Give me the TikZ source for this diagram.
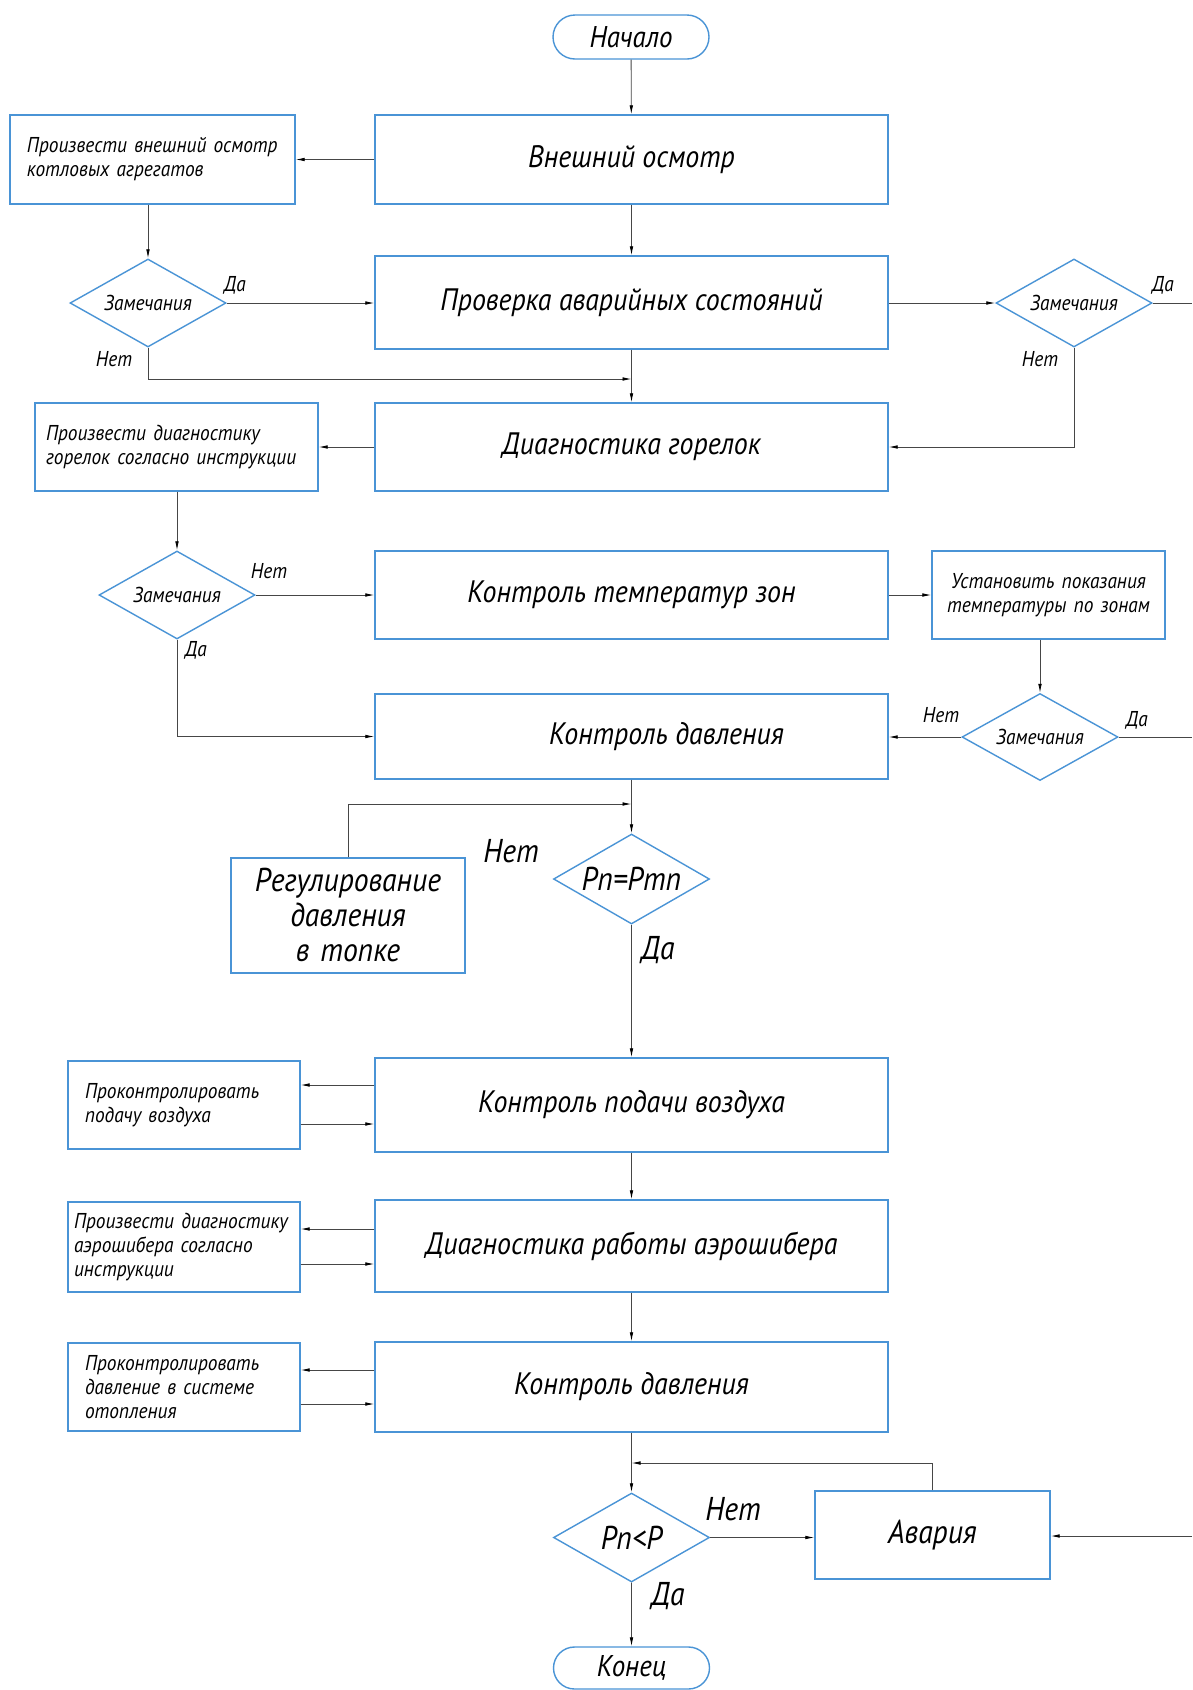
\documentclass[tikz,border=0pt]{standalone}
\usepackage{fontspec}
\setmainfont{PT Sans}[FakeStretch=0.9]
\usetikzlibrary{shapes.geometric,shapes.misc,arrows.meta}
\definecolor{bblue}{RGB}{74,148,214}
\definecolor{lgray}{RGB}{70,70,70}
\newcommand\fmain{\fontsize{31}{36}\selectfont\itshape}
\newcommand\fsmall{\fontsize{21.5}{24}\selectfont\itshape}
\newcommand\fbig{\fontsize{33}{35}\selectfont\itshape}
\newcommand\fterm{\fontsize{30}{32}\selectfont\itshape}
\tikzset{
  mainbox/.style={draw=bblue,line width=1.4pt,minimum width=513pt,inner sep=0pt,font=\fmain},
  sidebox/.style={draw=bblue,line width=1.4pt,align=left,inner ysep=0pt,font=\fsmall},
  decision/.style={draw=bblue,line width=1.4pt,diamond,aspect=1.77,minimum width=156pt,minimum height=88pt,inner sep=0pt,font=\fsmall},
  terminal/.style={draw=bblue,line width=1.4pt,rounded rectangle,minimum width=156pt,minimum height=44pt,inner sep=0pt,font=\fterm},
  conn/.style={draw=lgray,line width=0.8pt,-{Latex[length=9pt,width=3.6pt,color=black]}},
  plain/.style={draw=lgray,line width=0.8pt},
  lab/.style={font=\fsmall,inner sep=0pt},
  biglab/.style={font=\fbig,inner sep=0pt}
}
\begin{document}
\begin{tikzpicture}[x=1pt,y=-1pt]
\useasboundingbox[fill=white] (0,0) rectangle (1192,1690);
% nodes
\node[terminal] (start) at (631,37) {Начало};
\node[mainbox,minimum height=89pt] (b1) at (631.5,159.5) {Внешний осмотр};
\node[sidebox,text width=251pt,inner xsep=17pt,minimum height=89pt] (a1) at (152.5,159.5) {Произвести внешний осмотр\\котловых агрегатов};
\node[decision] (d1) at (148,303) {Замечания};
\node[mainbox,minimum height=93pt] (b2) at (631.5,302.5) {Проверка аварийных состояний};
\node[decision] (d3) at (1074,303) {Замечания};
\node[mainbox,minimum height=88pt] (b3) at (631.5,447) {Диагностика горелок};
\node[sidebox,text width=261pt,inner xsep=11pt,minimum height=88pt] (a2) at (176.5,447) {Произвести диагностику\\горелок согласно инструкции};
\node[decision] (d2) at (177,595) {Замечания};
\node[mainbox,minimum height=88pt] (b4) at (631.5,595) {Контроль температур зон};
\node[sidebox,align=center,text width=217pt,inner xsep=8pt,minimum height=88pt] (r1) at (1048.5,595) {Установить показания\\температуры по зонам};
\node[decision,minimum height=87pt] (d4) at (1040,737) {Замечания};
\node[mainbox,minimum height=85pt] (b5) at (631.5,736.5) {\hspace*{70pt}Контроль давления};
\node[decision,minimum height=90pt,font=\fbig] (d5) at (631.5,879) {Рп=Ртп};
\node[sidebox,align=center,font=\fbig,text width=218pt,inner xsep=8pt,minimum height=115pt] (reg) at (348,915.5) {Регулирование\\давления\\в топке};
\node[mainbox,minimum height=94pt] (b6) at (631.5,1105) {Контроль подачи воздуха};
\node[sidebox,text width=198pt,inner xsep=17pt,minimum height=88pt] (a3) at (184,1105) {Проконтролировать\\подачу воздуха};
\node[mainbox,minimum height=92pt] (b7) at (631.5,1246) {Диагностика работы аэрошибера};
\node[sidebox,text width=220pt,inner xsep=6pt,minimum height=90pt] (a4) at (184,1247) {Произвести диагностику\\аэрошибера согласно\\инструкции};
\node[mainbox,minimum height=90pt] (b8) at (631.5,1387) {Контроль давления};
\node[sidebox,text width=198pt,inner xsep=17pt,minimum height=88pt] (a5) at (184,1387) {Проконтролировать\\давление в системе\\отопления};
\node[decision,minimum height=89pt,font=\fbig] (d6) at (631.5,1537.5) {Рп<Р};
\node[draw=bblue,line width=1.4pt,minimum width=235pt,minimum height=88pt,inner sep=0pt,font=\fbig] (av) at (932.5,1535) {Авария};
\node[terminal,minimum height=42pt] (end) at (631.5,1668) {Конец};
% helper coordinates
\coordinate (e1) at (1192,303);
\coordinate (e2) at (1192,737);
\coordinate (e3) at (1192,1536);
\coordinate (j1) at (631.5,379);
\coordinate (j2) at (631.5,804);
\coordinate (j3) at (631.5,1463);
% connectors
\draw[conn] (start) -- (b1);
\draw[conn] (b1.west) -- (a1.east);
\draw[conn] (b1) -- (b2);
\draw[conn] (a1.south -| d1.north) -- (d1.north);
\draw[conn] (d1.east) -- (d1.east -| b2.west);
\draw[conn] (d1.south) |- (j1);
\draw[conn] (b2) -- (b3);
\draw[conn] (b2.east |- d3.west) -- (d3.west);
\draw[plain] (d3.east) -- (e1);
\draw[conn] (d3.south) |- (b3.east);
\draw[conn] (b3.west) -- (a2.east);
\draw[conn] (a2.south -| d2.north) -- (d2.north);
\draw[conn] (d2.east) -- (d2.east -| b4.west);
\draw[conn] (d2.south) |- (b5.west);
\draw[conn] (b4.east) -- (r1.west);
\draw[conn] (r1.south -| d4.north) -- (d4.north);
\draw[conn] (d4.west) -- (d4.west -| b5.east);
\draw[plain] (d4.east) -- (e2);
\draw[conn] (b5) -- (d5);
\draw[conn] (reg.north) |- (j2);
\draw[conn] (d5) -- (b6);
\draw[conn] ([yshift=20pt]b6.west) -- ([yshift=20pt]b6.west -| a3.east);
\draw[conn] ([yshift=-19pt]a3.east) -- ([yshift=-19pt]a3.east -| b6.west);
\draw[conn] (b6) -- (b7);
\draw[conn] ([yshift=17pt]b7.west) -- ([yshift=17pt]b7.west -| a4.east);
\draw[conn] ([yshift=-17pt]a4.east) -- ([yshift=-17pt]a4.east -| b7.west);
\draw[conn] (b7) -- (b8);
\draw[conn] ([yshift=17pt]b8.west) -- ([yshift=17pt]b8.west -| a5.east);
\draw[conn] ([yshift=-17pt]a5.east) -- ([yshift=-17pt]a5.east -| b8.west);
\draw[conn] (b8) -- (d6);
\draw[conn] (av.north) |- (j3);
\draw[conn] (d6.east) -- (d6.east -| av.west);
\draw[conn] (e3) -- (e3 -| av.east);
\draw[conn] (d6) -- (end);
% labels
\node[lab] (l1) at (235,285) {Да};
\node[lab] (l2) at (114,359) {Нет};
\node[lab] (l3) at (1163,285) {Да};
\node[lab] (l4) at (1040,359) {Нет};
\node[lab] (l5) at (269,571) {Нет};
\node[lab] (l6) at (196,650) {Да};
\node[lab] (l7) at (941,715) {Нет};
\node[lab] (l8) at (1137,720) {Да};
\node[biglab] (l9) at (511,851) {Нет};
\node[biglab] (l10) at (658,950) {Да};
\node[biglab] (l11) at (733,1509) {Нет};
\node[biglab] (l12) at (668,1596) {Да};
\end{tikzpicture}
\end{document}
